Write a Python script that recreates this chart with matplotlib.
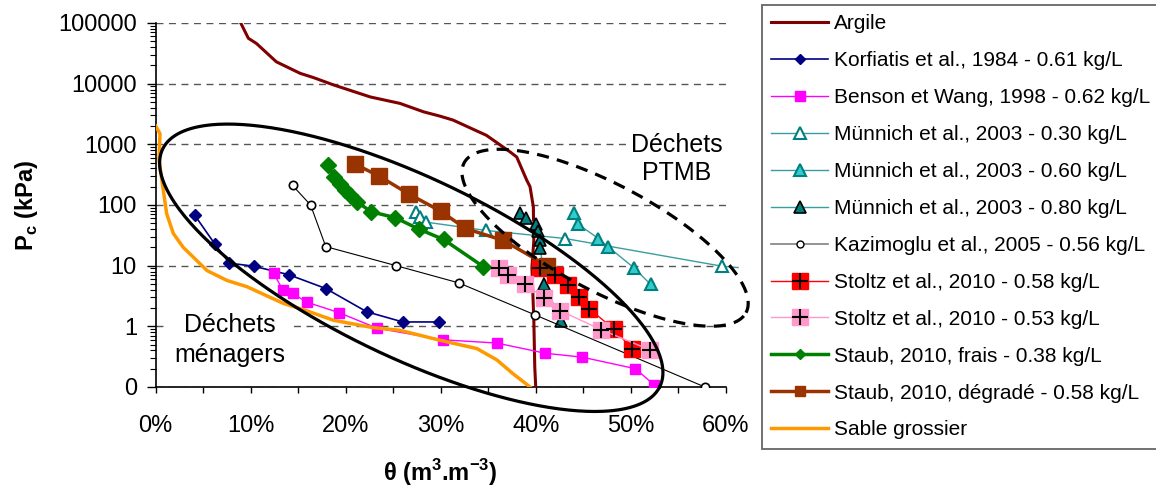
import numpy as np
import matplotlib
matplotlib.use('Agg')
import matplotlib.pyplot as plt
from matplotlib.lines import Line2D
from matplotlib.legend_handler import HandlerTuple
from matplotlib.ticker import FuncFormatter, MultipleLocator, LogLocator, NullFormatter

plt.rcParams['font.family'] = ['Liberation Sans', 'DejaVu Sans']
plt.rcParams['mathtext.fontset'] = 'custom'
plt.rcParams['mathtext.rm'] = 'Liberation Sans'
plt.rcParams['mathtext.bf'] = 'Liberation Sans:bold'

# teneur en eau volumique (%) / pression capillaire (kPa)
argile_theta = [8.95, 9.75, 10.6, 12.7, 15.2, 16.6, 18.7, 22.6, 25.7, 28.2, 29.9, 31.3,
                33.8, 34.8, 37.3, 38.0, 39.05, 39.4, 39.75, 39.8, 39.6, 39.8, 39.9, 40.0]
argile_pc = [100000, 56000, 46000, 22900, 14800, 12600, 9550, 6030, 4730, 3430, 2920, 2510,
             1660, 1410, 750, 617, 257, 200, 93, 26, 9.3, 1.26, 0.21, 0.1]

korf_theta = [4.1, 6.2, 7.75, 10.3, 14.0, 17.9, 22.2, 26.0, 29.8]
korf_pc = [68, 23, 11, 9.8, 7.1, 4.2, 1.74, 1.18, 1.18]

benson_theta = [12.4, 13.4, 14.4, 15.9, 19.3, 23.3, 30.2, 35.9, 41.0, 44.9, 50.5, 52.5]
benson_pc = [7.6, 3.9, 3.5, 2.5, 1.68, 0.93, 0.60, 0.53, 0.36, 0.31, 0.20, 0.107]

mun30_theta = [27.4, 27.8, 28.5, 34.8, 43.1, 59.6, 61.3]
mun30_pc = [78, 63, 52, 38, 28, 9.8, 9.3]

mun60_theta = [44.0, 44.4, 46.6, 47.6, 50.3, 52.1]
mun60_pc = [74, 49, 28, 20.6, 9.3, 4.9]

mun80_theta = [38.3, 39.0, 40.0, 40.2, 40.5, 40.5, 40.9, 42.7]
mun80_pc = [73, 62, 49, 37, 26, 19.6, 4.9, 1.23]

kazi_theta = [14.4, 16.3, 17.9, 25.3, 31.9, 39.9, 57.8]
kazi_pc = [210, 100, 20.6, 10, 5.2, 1.55, 0.1]

stoltz58_theta = [40.5, 42.0, 43.4, 44.6, 45.6, 48.2, 50.1]
stoltz58_pc = [9.3, 6.9, 4.8, 3.0, 1.96, 0.91, 0.43]

stoltz53_theta = [36.1, 37.1, 38.9, 40.9, 42.6, 46.9, 52.0]
stoltz53_pc = [9.3, 6.9, 4.9, 2.95, 1.8, 0.88, 0.41]

staubf_theta = [18.1, 18.8, 19.4, 19.9, 20.5, 21.2, 22.7, 25.2, 27.7, 30.3, 34.5]
staubf_pc = [460, 290, 225, 175, 145, 112, 77, 62, 40, 27, 9.6]

staubd_theta = [21.0, 23.5, 26.7, 30.0, 32.6, 36.6, 41.2]
staubd_pc = [470, 300, 150, 79, 41, 26, 10]

sable_theta = [0.0, 0.45, 0.35, 1.15, 1.85, 2.9, 5.4, 7.5, 9.6, 13.4, 15.9, 18.7, 22.9,
               25.7, 29.9, 33.8, 35.9, 37.6, 39.4]
sable_pc = [2000, 1500, 550, 72, 34, 20, 8.3, 5.7, 4.5, 2.4, 1.8, 1.26, 0.95,
            0.86, 0.59, 0.43, 0.28, 0.166, 0.1]

labels = ['Argile',
          'Korfiatis et al., 1984 - 0.61 kg/L',
          'Benson et Wang, 1998 - 0.62 kg/L',
          'Münnich et al., 2003 - 0.30 kg/L',
          'Münnich et al., 2003 - 0.60 kg/L',
          'Münnich et al., 2003 - 0.80 kg/L',
          'Kazimoglu et al., 2005 - 0.56 kg/L',
          'Stoltz et al., 2010 - 0.58 kg/L',
          'Stoltz et al., 2010 - 0.53 kg/L',
          'Staub, 2010, frais - 0.38 kg/L',
          'Staub, 2010, dégradé - 0.58 kg/L',
          'Sable grossier']

# zones (ellipses) : centre (theta %, log10 Pc), demi-axes (en %), angle
zone_menagers = (26.9, 0.965, 29.0, 9.46, -25.5)
zone_ptmb = (47.3, 1.46, 16.8, 5.61, -28.0)

fig = plt.figure(figsize=(11.56, 4.88), dpi=100)
ax_pos = [0.1347, 0.2070, 0.4931, 0.7459]
ax = fig.add_axes(ax_pos)

ax.set_yscale('log')
ax.set_xlim(0, 60)
ax.set_ylim(0.1, 100000)

teal_line = '#3A9E9E'
ax.plot(argile_theta, argile_pc, color='#800000', lw=2.2, zorder=3)
ax.plot(korf_theta, korf_pc, color='#000080', lw=1.2, marker='D', ms=6, zorder=4)
ax.plot(benson_theta, benson_pc, color='#FF00FF', lw=1, marker='s', ms=7, zorder=4)
ax.plot(mun30_theta, mun30_pc, color=teal_line, lw=1, marker='^', ms=9, mfc='white',
        mec='#008080', mew=1.5, markevery=slice(0, len(mun30_theta) - 1), clip_on=False, zorder=4)
ax.plot(mun60_theta, mun60_pc, color=teal_line, lw=1, marker='^', ms=9, mfc='#33CCCC',
        mec='#008080', mew=1.5, zorder=4)
ax.plot(mun80_theta, mun80_pc, color=teal_line, lw=1, marker='^', ms=9, mfc='#008080',
        mec='black', mew=1.2, zorder=4)
ax.plot(kazi_theta, kazi_pc, color='black', lw=0.8, marker='o', ms=6, mfc='white',
        mec='black', mew=1.2, zorder=4)
ax.plot(stoltz58_theta, stoltz58_pc, color='#FF0000', lw=1, marker='s', ms=12,
        mfc='#FF0000', mec='#FF0000', zorder=4)
ax.plot(stoltz58_theta, stoltz58_pc, ls='none', marker='+', ms=12, mew=1.5, color='black', zorder=5)
ax.plot(stoltz53_theta, stoltz53_pc, color='#FF99CC', lw=1, marker='s', ms=12,
        mfc='#FF99CC', mec='#FF99CC', zorder=4)
ax.plot(stoltz53_theta, stoltz53_pc, ls='none', marker='+', ms=12, mew=1.5, color='black', zorder=5)
ax.plot(staubf_theta, staubf_pc, color='#008000', lw=2.5, marker='D', ms=8, zorder=4)
ax.plot(staubd_theta, staubd_pc, color='#993300', lw=2.5, marker='s', ms=11, zorder=4)
ax.plot(sable_theta, sable_pc, color='#FF9900', lw=2.5, zorder=4)

# ellipses tracées dans l'espace visuel des axes
fw, fh = fig.get_size_inches() * fig.dpi
px_per_pct = ax_pos[2] * fw / 60
px_per_dec = ax_pos[3] * fh / 6
k = px_per_dec / px_per_pct
t = np.linspace(0, 2 * np.pi, 400)


def ellipse_curve(cx, cy, a, b, angle):
    phi = np.radians(angle)
    ex = cx + a * np.cos(t) * np.cos(phi) - b * np.sin(t) * np.sin(phi)
    ey = cy + (a * np.cos(t) * np.sin(phi) + b * np.sin(t) * np.cos(phi)) / k
    return ex, 10 ** ey


ex, ey = ellipse_curve(*zone_menagers)
ax.plot(ex, ey, color='black', lw=2.3, zorder=6, clip_on=False)
ex, ey = ellipse_curve(*zone_ptmb)
ax.plot(ex, ey, color='black', lw=2.3, ls=(0, (3.8, 2.6)), zorder=6, clip_on=False)

ax.text(7.8, 0.59, 'Déchets\nménagers', fontsize=18, ha='center', va='center',
        linespacing=1.3, zorder=2,
        bbox=dict(facecolor='white', edgecolor='none', pad=6))
ax.text(54.8, 570, 'Déchets\nPTMB', fontsize=18, ha='center', va='center',
        linespacing=1.2, zorder=2,
        bbox=dict(facecolor='white', edgecolor='none', pad=3))

# axes
ax.yaxis.grid(True, which='major', color='#555555', ls=(0, (5, 4)), lw=1)
ax.set_axisbelow(True)
for s in ['top', 'right']:
    ax.spines[s].set_visible(False)
ax.spines['left'].set_linewidth(1.2)
ax.spines['bottom'].set_linewidth(1.2)

ax.xaxis.set_major_locator(MultipleLocator(10))
ax.xaxis.set_minor_locator(MultipleLocator(5))
ax.xaxis.set_major_formatter(FuncFormatter(lambda v, p: f'{v:.0f}%'))
ax.yaxis.set_major_locator(LogLocator(base=10, numticks=10))
ax.yaxis.set_minor_locator(LogLocator(base=10, subs=np.arange(2, 10), numticks=10))
ax.yaxis.set_major_formatter(FuncFormatter(lambda v, p: f'{v:.0f}'))
ax.yaxis.set_minor_formatter(NullFormatter())
ax.tick_params(axis='x', which='both', direction='out', length=4.5, width=1, labelsize=17, pad=16)
ax.tick_params(axis='y', which='major', direction='out', length=6.5, width=1, labelsize=17, pad=7)
ax.tick_params(axis='y', which='minor', direction='out', length=4.5, width=0.8)

ax.set_xlabel(r'θ (m$^\mathbf{3}$.m$^\mathbf{-3}$)', fontsize=17, fontweight='bold', labelpad=14)
ax.set_ylabel(r'P$_\mathbf{c}$ (kPa)', fontsize=17, fontweight='bold', labelpad=13)

# légende
def sq_plus(col):
    return (Line2D([], [], color=col, lw=1, marker='s', ms=11, mfc=col, mec=col),
            Line2D([], [], ls='none', marker='+', ms=11, mew=1.5, color='black'))


handles = [
    Line2D([], [], color='#800000', lw=2.2),
    Line2D([], [], color='#000080', lw=1.2, marker='D', ms=5),
    Line2D([], [], color='#FF00FF', lw=1, marker='s', ms=7),
    Line2D([], [], color=teal_line, lw=1, marker='^', ms=8, mfc='white', mec='#008080', mew=1.5),
    Line2D([], [], color=teal_line, lw=1, marker='^', ms=8, mfc='#33CCCC', mec='#008080', mew=1.5),
    Line2D([], [], color=teal_line, lw=1, marker='^', ms=8, mfc='#008080', mec='black', mew=1.2),
    Line2D([], [], color='#808080', lw=1.2, marker='o', ms=5, mfc='white', mec='black', mew=1),
    sq_plus('#FF0000'),
    sq_plus('#FF99CC'),
    Line2D([], [], color='#008000', lw=2.5, marker='D', ms=5.5),
    Line2D([], [], color='#993300', lw=2.5, marker='s', ms=7),
    Line2D([], [], color='#FF9900', lw=2.5),
]
leg = fig.legend(handles, labels, loc='upper left', bbox_to_anchor=(762 / 1156, 1 - 5 / 488),
                 fontsize=15, frameon=True, fancybox=False, borderpad=0.45,
                 handlelength=2.7, handletextpad=0.3, labelspacing=0.86, borderaxespad=0,
                 handler_map={tuple: HandlerTuple(ndivide=1)})
leg.get_frame().set_edgecolor('#404040')
leg.get_frame().set_linewidth(1.3)

fig.savefig('out.png', dpi=100)
